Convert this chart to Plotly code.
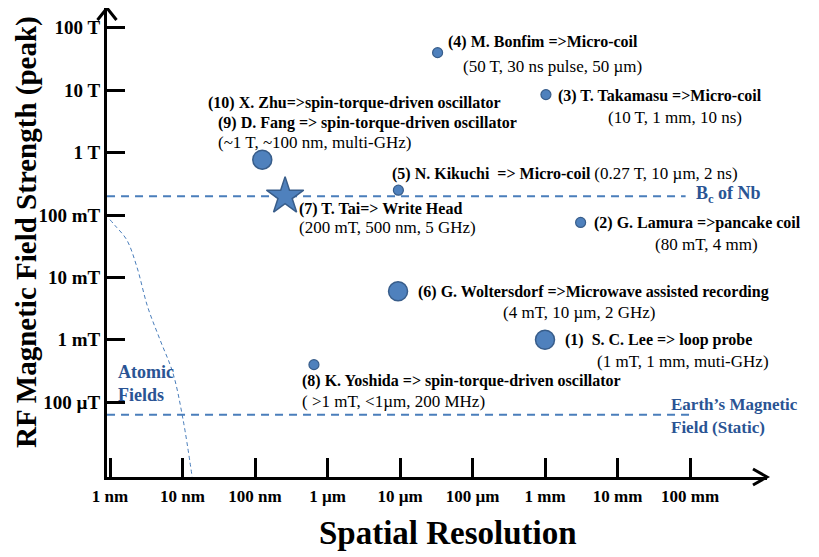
import math
import plotly.graph_objects as go

# ---------------- data ----------------
# spatial resolution (m), peak RF field (T)
small_names = ["(4) Bonfim", "(3) Takamasu", "(5) Kikuchi", "(2) Lamura", "(8) Yoshida"]
small_x = [3.3e-5, 1.03e-3, 9.5e-6, 3.1e-3, 6.5e-7]
small_y = [40.0, 8.5, 0.25, 0.076, 4.0e-4]

big_names = ["(9)/(10) Fang / Zhu", "(6) Woltersdorf", "(1) Lee"]
big_x = [1.26e-7, 9.4e-6, 1.0e-3]
big_y = [0.77, 6.0e-3, 1.0e-3]

star_name = "(7) Tai"
star_x = [2.6e-7]
star_y = [0.2]

BC_NB = 0.2           # T
EARTH_FIELD = 6.3e-5  # T
bc_line_x = [9.1e-10, 8.7e-2]
earth_line_x = [9.1e-10, 1.1e-1]

atomic_x = [1.0e-9, 1.17e-9, 1.7e-9, 2.35e-9, 3.3e-9, 4.9e-9, 7.4e-9, 1.02e-8, 1.36e-8]
atomic_y = [8.4e-2, 6.8e-2, 4.0e-2, 1.47e-2, 3.4e-3, 1.0e-3, 2.9e-4, 5.2e-5, 6.3e-6]

x_tickvals = [1e-9, 1e-8, 1e-7, 1e-6, 1e-5, 1e-4, 1e-3, 1e-2, 1e-1]
x_ticktext = ["1 nm", "10 nm", "100 nm", "1 µm", "10 µm", "100 µm", "1 mm", "10 mm", "100 mm"]
y_tickvals = [1e-4, 1e-3, 1e-2, 1e-1, 1, 10, 100]
y_ticktext = ["100 µT", "1 mT", "10 mT", "100 mT", "1 T", "10 T", "100 T"]

# ---------------- style ----------------
FONT = "Liberation Serif"
FILL = "#4f81bd"
EDGE = "#385d8a"
DASH = "#4a7ebb"
LABEL_BLUE = "#2a5494"
REG = 17  # regular annotation size
BLD = 16  # bold annotation size

fig = go.Figure()

fig.add_trace(go.Scatter(x=bc_line_x, y=[BC_NB, BC_NB], mode="lines",
                         line=dict(color=DASH, width=2, dash="8px,6px"),
                         hoverinfo="skip", showlegend=False))
fig.add_trace(go.Scatter(x=earth_line_x, y=[EARTH_FIELD, EARTH_FIELD], mode="lines",
                         line=dict(color=DASH, width=2, dash="8px,6px"),
                         hoverinfo="skip", showlegend=False))
fig.add_trace(go.Scatter(x=atomic_x, y=atomic_y, mode="lines", line_shape="spline",
                         line=dict(color=DASH, width=1, dash="4px,3px"),
                         hoverinfo="skip", showlegend=False))

fig.add_trace(go.Scatter(x=small_x, y=small_y, mode="markers", text=small_names,
                         marker=dict(size=10, color=FILL, line=dict(color=EDGE, width=1.2)),
                         showlegend=False))
fig.add_trace(go.Scatter(x=big_x, y=big_y, mode="markers", text=big_names,
                         marker=dict(size=19, color=FILL, line=dict(color=EDGE, width=1.5)),
                         showlegend=False))
fig.add_trace(go.Scatter(x=star_x, y=star_y, mode="markers", text=[star_name],
                         marker=dict(symbol="star", size=28, color=FILL,
                                     line=dict(color=EDGE, width=1.5)),
                         showlegend=False))

annotations = []


def note(px, py, text, dx, dy, size=None, color="black", bold=True):
    if size is None:
        size = BLD if bold else REG
    t = f"<b>{text}</b>" if bold else text
    annotations.append(dict(x=math.log10(px), y=math.log10(py), xref="x", yref="y",
                            text=t, showarrow=False, xanchor="left", yanchor="middle",
                            xshift=dx, yshift=dy,
                            font=dict(family=FONT, size=size, color=color)))


# (4) Bonfim
note(small_x[0], small_y[0], "(4) M. Bonfim =&gt;Micro-coil", 8, 11)
note(small_x[0], small_y[0], "(50 T, 30 ns pulse, 50 µm)", 23, -14, bold=False)
# (3) Takamasu
note(small_x[1], small_y[1], "(3) T. Takamasu =&gt;Micro-coil", 10, -1)
note(small_x[1], small_y[1], "(10 T, 1 mm, 10 ns)", 60, -23, bold=False)
# (5) Kikuchi
note(small_x[2], small_y[2],
     f"<b>(5) N. Kikuchi  =&gt; Micro-coil</b> <span style='font-size:{REG}px'>(0.27 T, 10 µm, 2 ns)</span>",
     -8, 17, size=BLD, bold=False)
# (2) Lamura
note(small_x[3], small_y[3], "(2) G. Lamura =&gt;pancake coil", 11, -1)
note(small_x[3], small_y[3], "(80 mT, 4 mm)", 72, -22, bold=False)
# (8) Yoshida
note(small_x[4], small_y[4], "(8) K. Yoshida =&gt; spin-torque-driven oscillator", -14, -16)
note(small_x[4], small_y[4], "( &gt;1 mT, &lt;1µm, 200 MHz)", -14, -37, bold=False)
# (9)/(10) Fang / Zhu
note(big_x[0], big_y[0], "(10) X. Zhu=&gt;spin-torque-driven oscillator", -56, 57)
note(big_x[0], big_y[0], "(9) D. Fang =&gt; spin-torque-driven oscillator", -46, 37)
note(big_x[0], big_y[0], "(~1 T, ~100 nm, multi-GHz)", -46, 17, bold=False)
# (6) Woltersdorf
note(big_x[1], big_y[1], "(6) G. Woltersdorf =&gt;Microwave assisted recording", 18, -1)
note(big_x[1], big_y[1], "(4 mT, 10 µm, 2 GHz)", 103, -21, bold=False)
# (1) Lee
note(big_x[2], big_y[2], "(1)  S. C. Lee =&gt; loop probe", 18, 0)
note(big_x[2], big_y[2], "(1 mT, 1 mm, muti-GHz)", 50, -22, bold=False)
# (7) Tai
note(star_x[0], star_y[0], "(7) T. Tai=&gt; Write Head", 12, -13)
note(star_x[0], star_y[0], "(200 mT, 500 nm, 5 GHz)", 12, -31, bold=False)

# reference-line labels
note(bc_line_x[1], BC_NB, "B<sub>c</sub> of Nb", 8, 2, size=18, color=LABEL_BLUE)
note(earth_line_x[1], EARTH_FIELD, "Earth’s Magnetic", -24, 10, size=17, color=LABEL_BLUE)
note(earth_line_x[1], EARTH_FIELD, "Field (Static)", -24, -13, size=17, color=LABEL_BLUE)

# Page body has an 8px margin: figure is placed at (8, 8) on screen.
OFF = 8
FIG_W, FIG_H = 819 - OFF, 557 - OFF
# plot area in screen pixels
PL, PR, PT, PB = 107, 767, 8, 477
W, H = PR - PL, PB - PT


def px2paper(x, y):
    return (x - PL) / W, (PB - y) / H


for txt, sy in (("<b>Atomic</b>", 372), ("<b>Fields</b>", 395)):
    ax_, ay_ = px2paper(116, sy)
    annotations.append(dict(x=ax_, y=ay_, xref="paper", yref="paper", text=txt,
                            showarrow=False, xanchor="left", yanchor="middle",
                            font=dict(family=FONT, size=18, color=LABEL_BLUE)))

# axis titles
tx, ty = px2paper(26, 232)
annotations.append(dict(x=tx, y=ty, xref="paper", yref="paper",
                        text="<b>RF Magnetic Field Strength (peak)</b>", textangle=-90,
                        showarrow=False, xanchor="center", yanchor="middle",
                        font=dict(family=FONT, size=29, color="black")))
tx, ty = px2paper(448, 533)
annotations.append(dict(x=tx, y=ty, xref="paper", yref="paper",
                        text="<b>Spatial Resolution</b>",
                        showarrow=False, xanchor="center", yanchor="middle",
                        font=dict(family=FONT, size=33, color="black")))

# arrow heads
a1x, a1y = px2paper(753, 469)
a2x, a2y = px2paper(753, 485)
b1x, b1y = px2paper(97.5, 20)
b2x, b2y = px2paper(116.5, 20)
shapes = [
    dict(type="path", xref="paper", yref="paper",
         path=f"M {a1x},{a1y} L 1,0 L {a2x},{a2y}", line=dict(color="black", width=3)),
    dict(type="path", xref="paper", yref="paper",
         path=f"M {b1x},{b1y} L 0,1 L {b2x},{b2y}", line=dict(color="black", width=3)),
]

# x mapping: 1 nm at screen px 110, 72.5 px/decade ; y mapping: 100 mT at 215, 62.4 px/decade
xr = [-9 + (PL - 110) / 72.5, -9 + (PR - 110) / 72.5]
yr = [-1 - (PB - 215) / 62.4, -1 + (215 - PT) / 62.4]

fig.update_layout(
    width=FIG_W, height=FIG_H,
    margin=dict(l=PL - OFF, r=FIG_W - (PR - OFF), t=PT - OFF, b=FIG_H - (PB - OFF), pad=0),
    paper_bgcolor="white", plot_bgcolor="white",
    showlegend=False,
    annotations=annotations, shapes=shapes,
    xaxis=dict(type="log", range=xr, showgrid=False, zeroline=False, automargin=False,
               showline=True, linecolor="black", linewidth=3,
               ticks="inside", ticklen=19, tickwidth=3, tickcolor="black",
               tickvals=x_tickvals, ticktext=x_ticktext, ticklabelstandoff=2,
               tickfont=dict(family=FONT, size=17, color="black", weight="bold")),
    yaxis=dict(type="log", range=yr, showgrid=False, zeroline=False, automargin=False,
               showline=True, linecolor="black", linewidth=3,
               ticks="inside", ticklen=18, tickwidth=3, tickcolor="black",
               tickvals=y_tickvals, ticktext=y_ticktext, ticklabelstandoff=0,
               tickfont=dict(family=FONT, size=19, color="black", weight="bold")),
)

fig.write_html("out.html")
